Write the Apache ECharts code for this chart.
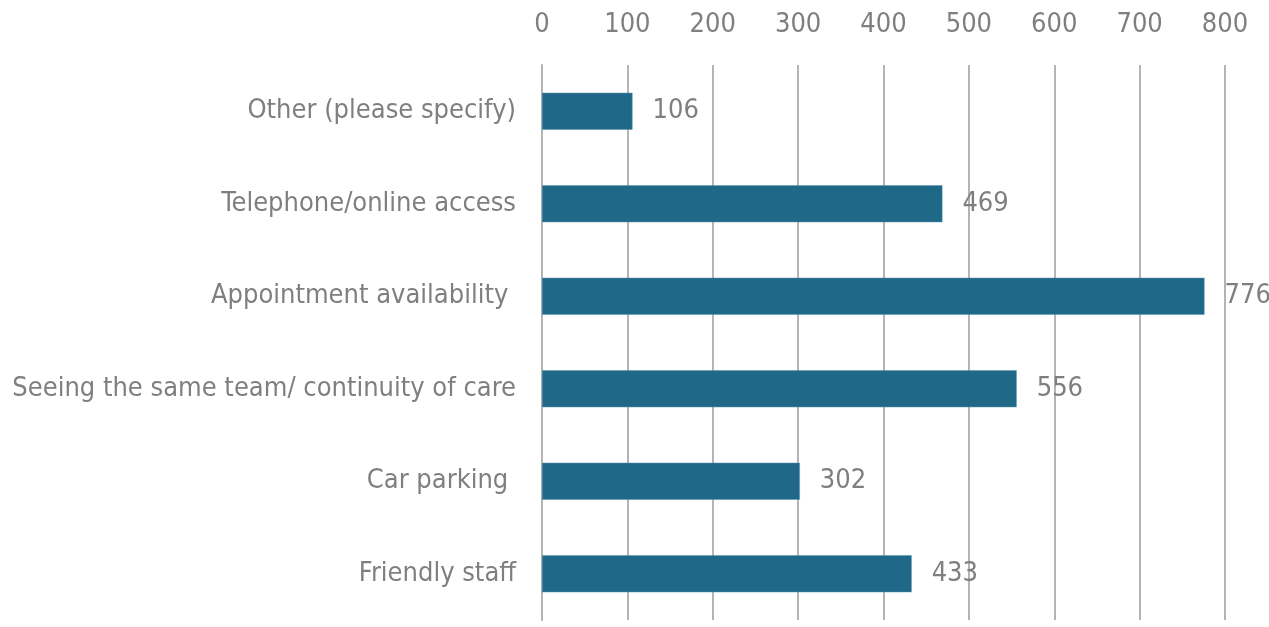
<!DOCTYPE html>
<html>
<head>
<meta charset="utf-8">
<script src="https://cdn.jsdelivr.net/npm/echarts@6/dist/echarts.min.js"></script>
<style>html,body{margin:0;padding:0;background:#fff}#c{width:1269px;height:627px}</style>
</head>
<body>
<div id="c"></div>
<script>
const categories = ["Other (please specify)", "Telephone/online access", "Appointment availability ", "Seeing the same team/ continuity of care", "Car parking ", "Friendly staff"];
const values = [106, 469, 776, 556, 302, 433];
const xTicks = [0, 100, 200, 300, 400, 500, 600, 700, 800];

const FONT = '"Liberation Sans Narrow", "DejaVu Sans Condensed", "Roboto Condensed", sans-serif';
const chart = echarts.init(document.getElementById('c'), null, {renderer: 'canvas'});
chart.setOption({
  animation: false,
  backgroundColor: '#ffffff',
  grid: {left: 542, right: 44, top: 65, bottom: 7, containLabel: false},
  xAxis: {
    type: 'value', position: 'top', min: xTicks[0], max: xTicks[xTicks.length - 1], interval: 100,
    axisLine: {show: false}, axisTick: {show: false},
    axisLabel: {color: '#7f7f7f', fontSize: 27, fontFamily: FONT, margin: 27},
    splitLine: {show: true, lineStyle: {color: '#b4b4b4', width: 2}}
  },
  yAxis: {
    type: 'category', inverse: true, data: categories,
    axisLine: {show: true, lineStyle: {color: '#b4b4b4', width: 2}},
    axisTick: {show: false},
    axisLabel: {color: '#7f7f7f', fontSize: 27, fontFamily: FONT, margin: 26}
  },
  series: [{
    type: 'bar', data: values, barWidth: '40%',
    itemStyle: {color: '#1f6887', borderColor: '#5a93ad', borderWidth: 0.5},
    label: {show: true, position: 'right', distance: 20, color: '#7f7f7f', fontSize: 27, fontFamily: FONT}
  }]
});
</script>
</body>
</html>
